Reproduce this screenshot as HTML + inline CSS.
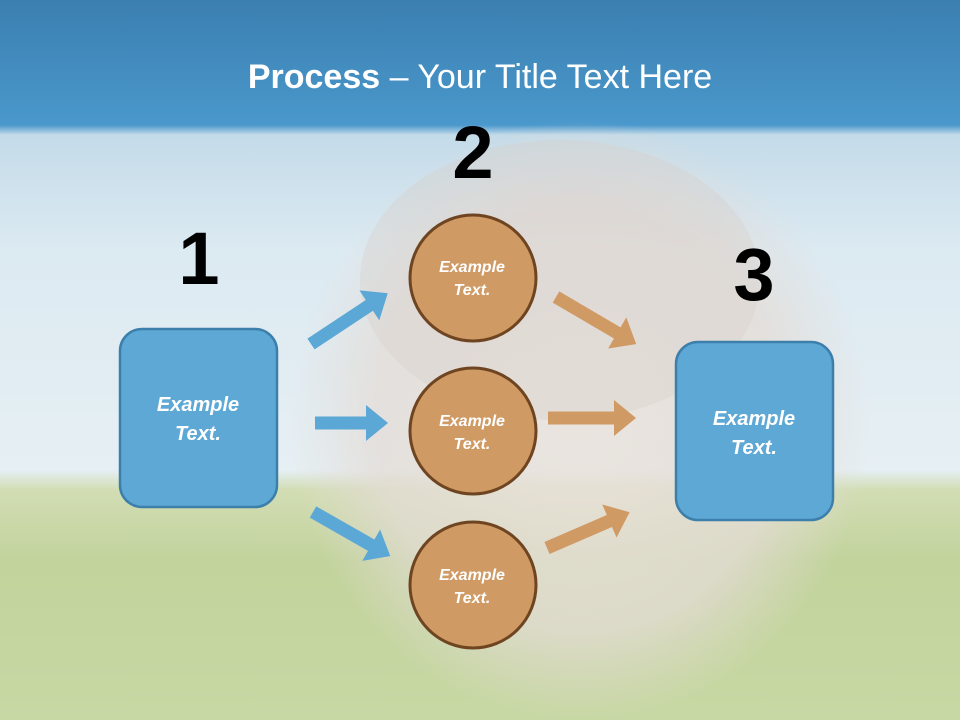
<!DOCTYPE html>
<html><head><meta charset="utf-8"><style>
html,body{margin:0;padding:0;overflow:hidden;width:960px;height:720px}
body{position:relative;font-family:"Liberation Sans",sans-serif;
background:linear-gradient(to bottom,#3b7fb0 0px,#4a98cc 125px,#c4dbe9 135px,#dceaf2 250px,#e6eff3 470px,#d2ddb4 490px,#c2d39c 560px,#c8d8a4 720px);}
svg{display:block;overflow:hidden}
</style></head><body>
<svg width="960" height="720" viewBox="0 0 960 720" style="position:absolute;left:0;top:0">
<defs>
<radialGradient id="face" cx="0.5" cy="0.5" r="0.5">
<stop offset="0" stop-color="#ebe3dc" stop-opacity="0.95"/>
<stop offset="0.7" stop-color="#e4dcd6" stop-opacity="0.85"/>
<stop offset="1" stop-color="#e4dcd6" stop-opacity="0"/>
</radialGradient>
</defs>
<path d="M290,420 A290,300 0 0 1 870,420 L870,720 L290,720 Z" fill="url(#face)" opacity="0.9"/>
<ellipse cx="560" cy="280" rx="200" ry="140" fill="#d8cfc8" opacity="0.35"/>
<text x="480" y="88" text-anchor="middle" fill="#fff" font-size="34" font-family="Liberation Sans, sans-serif"><tspan font-weight="bold">Process</tspan> – Your Title Text Here</text>
<g font-weight="bold" font-size="74" text-anchor="middle" fill="#000">
<text x="199" y="284">1</text><text x="473" y="178">2</text><text x="754" y="300">3</text>
</g>
<g fill="#5ba7d6">
<path transform="translate(311,344) rotate(-33.5)" d="M0,-6.5H70V-18L92,0L70,18V6.5H0Z"/>
<path transform="translate(315,423)" d="M0,-6.5H51V-18L73,0L51,18V6.5H0Z"/>
<path transform="translate(313,512) rotate(29.7)" d="M0,-6.5H67V-18L89,0L67,18V6.5H0Z"/>
</g>
<g fill="#d09a65">
<path transform="translate(556,297) rotate(30.4)" d="M0,-6.5H71V-18L93,0L71,18V6.5H0Z"/>
<path transform="translate(548,418)" d="M0,-6.5H66V-18L88,0L66,18V6.5H0Z"/>
<path transform="translate(547,548) rotate(-23.4)" d="M0,-6.5H68V-18L90,0L68,18V6.5H0Z"/>
</g>
<g fill="#5ea8d6" stroke="#3d7fab" stroke-width="2.5">
<rect x="120" y="329" width="157" height="178" rx="22"/>
<rect x="676" y="342" width="157" height="178" rx="22"/>
</g>
<g fill="#d09a65" stroke="#6e4520" stroke-width="3">
<circle cx="473" cy="278" r="63"/><circle cx="473" cy="431" r="63"/><circle cx="473" cy="585" r="63"/>
</g>
<g fill="#fff" font-weight="bold" font-style="italic" text-anchor="middle">
<g font-size="20"><text x="198" y="411">Example</text><text x="198" y="440">Text.</text>
<text x="754" y="425">Example</text><text x="754" y="454">Text.</text></g>
<g font-size="16"><text x="472" y="272">Example</text><text x="472" y="295">Text.</text>
<text x="472" y="426">Example</text><text x="472" y="449">Text.</text>
<text x="472" y="580">Example</text><text x="472" y="603">Text.</text></g>
</g>
</svg>
</body></html>
